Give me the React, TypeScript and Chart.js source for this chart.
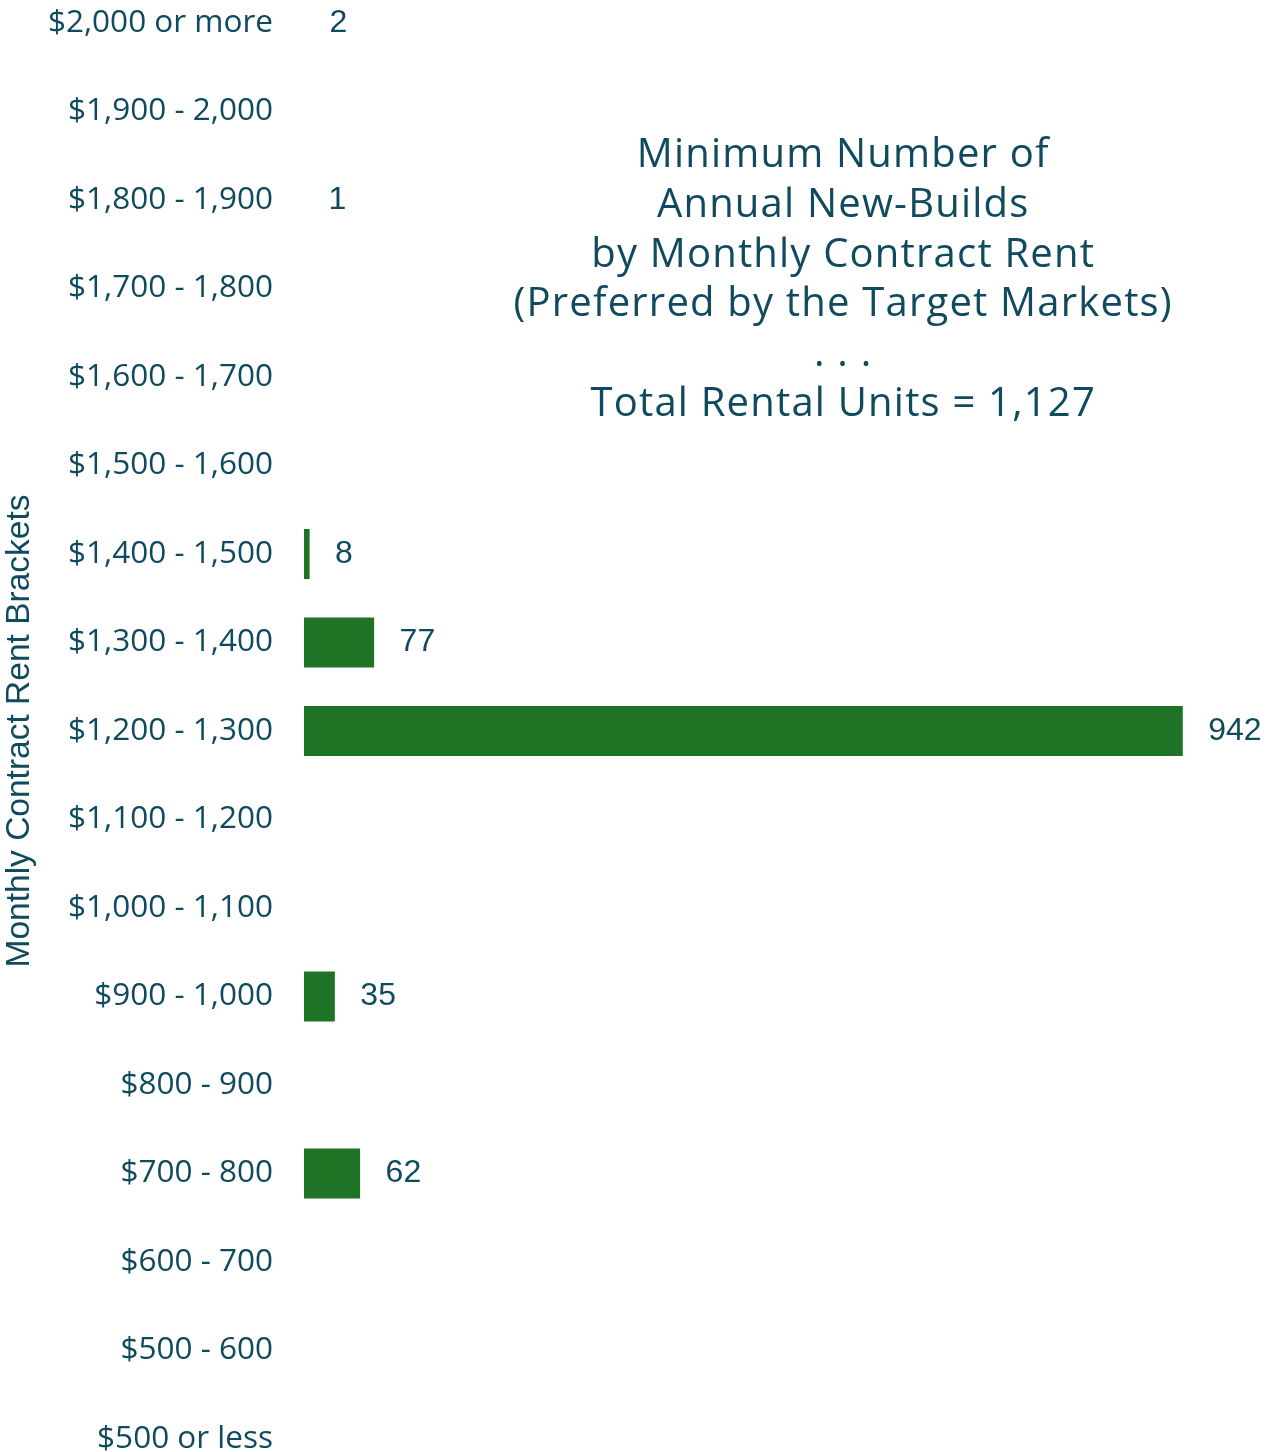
import React, { useEffect, useRef } from "react";
import { Chart, registerables } from "chart.js";

Chart.register(...registerables);

const categories = [
  "$2,000 or more",
  "$1,900 - 2,000",
  "$1,800 - 1,900",
  "$1,700 - 1,800",
  "$1,600 - 1,700",
  "$1,500 - 1,600",
  "$1,400 - 1,500",
  "$1,300 - 1,400",
  "$1,200 - 1,300",
  "$1,100 - 1,200",
  "$1,000 - 1,100",
  "$900 - 1,000",
  "$800 - 900",
  "$700 - 800",
  "$600 - 700",
  "$500 - 600",
  "$500 or less",
];

const units = [2, 0, 1, 0, 0, 0, 8, 77, 942, 0, 0, 35, 0, 62, 0, 0, 0];

const titleLines = [
  "Minimum Number of",
  "Annual New-Builds",
  "by Monthly Contract Rent",
  "(Preferred by the Target Markets)",
  ". . .",
  "Total Rental Units = 1,127",
];

const axisTitle = "Monthly Contract Rent Brackets";

const TEXT = "#0f4a5e";
const BAR = "#1e7324";
const W = 1267;
const H = 1452;

export default function App() {
  const ref = useRef<HTMLCanvasElement>(null);

  useEffect(() => {
    if (!ref.current) return;

    const labelPlugin = {
      id: "barLabels",
      afterDatasetsDraw(chart: any) {
        const ctx = chart.ctx;
        const meta = chart.getDatasetMeta(0);
        ctx.save();
        ctx.font = "32px 'Liberation Sans', Arial, sans-serif";
        ctx.fillStyle = TEXT;
        ctx.textAlign = "left";
        ctx.textBaseline = "middle";
        meta.data.forEach((el: any, i: number) => {
          const v = units[i];
          if (!v) return;
          ctx.fillText(String(v), el.x + 25.5, el.y);
        });
        ctx.restore();
      },
    };

    const titlePlugin = {
      id: "innerTitle",
      afterDraw(chart: any) {
        const ctx = chart.ctx;
        ctx.save();
        ctx.font = "40px 'Open Sans', sans-serif";
        try {
          (ctx as any).letterSpacing = "1.2px";
        } catch (e) {}
        ctx.fillStyle = TEXT;
        ctx.textAlign = "center";
        ctx.textBaseline = "alphabetic";
        const cx = chart.width * 0.6655;
        titleLines.forEach((line, i) => {
          ctx.fillText(line, cx, 167 + i * 49.8);
        });
        ctx.restore();
      },
    };

    const chart = new Chart(ref.current, {
      type: "bar",
      data: {
        labels: categories,
        datasets: [
          {
            data: units,
            backgroundColor: BAR,
            barPercentage: 0.565,
            categoryPercentage: 1,
          },
        ],
      },
      options: {
        indexAxis: "y",
        animation: false,
        responsive: false,
        devicePixelRatio: 1,
        layout: { padding: { left: 0, right: 30, top: 0, bottom: 0 } },
        plugins: {
          legend: { display: false },
          tooltip: { enabled: false },
        },
        scales: {
          x: {
            type: "linear",
            min: 2,
            max: 1000,
            display: false,
          },
          y: {
            type: "category",
            offset: false,
            grid: { display: false, drawTicks: false },
            border: { display: false },
            ticks: {
              color: TEXT,
              padding: 31,
              autoSkip: false,
              font: { family: "'Open Sans', sans-serif", size: 31.5 },
            },
            title: {
              display: true,
              text: axisTitle,
              color: TEXT,
              padding: 0,
              font: { family: "'Liberation Sans', Arial, sans-serif", size: 33.5 },
            },
            afterFit(scale: any) {
              scale.width = 304;
              scale.paddingTop = 23;
              scale.paddingBottom = 13;
            },
          },
        },
      },
      plugins: [labelPlugin, titlePlugin],
    });

    return () => chart.destroy();
  }, []);

  return (
    <canvas
      ref={ref}
      width={W}
      height={H}
      style={{ position: "absolute", left: 0, top: 0, width: W, height: H, display: "block" }}
    />
  );
}
